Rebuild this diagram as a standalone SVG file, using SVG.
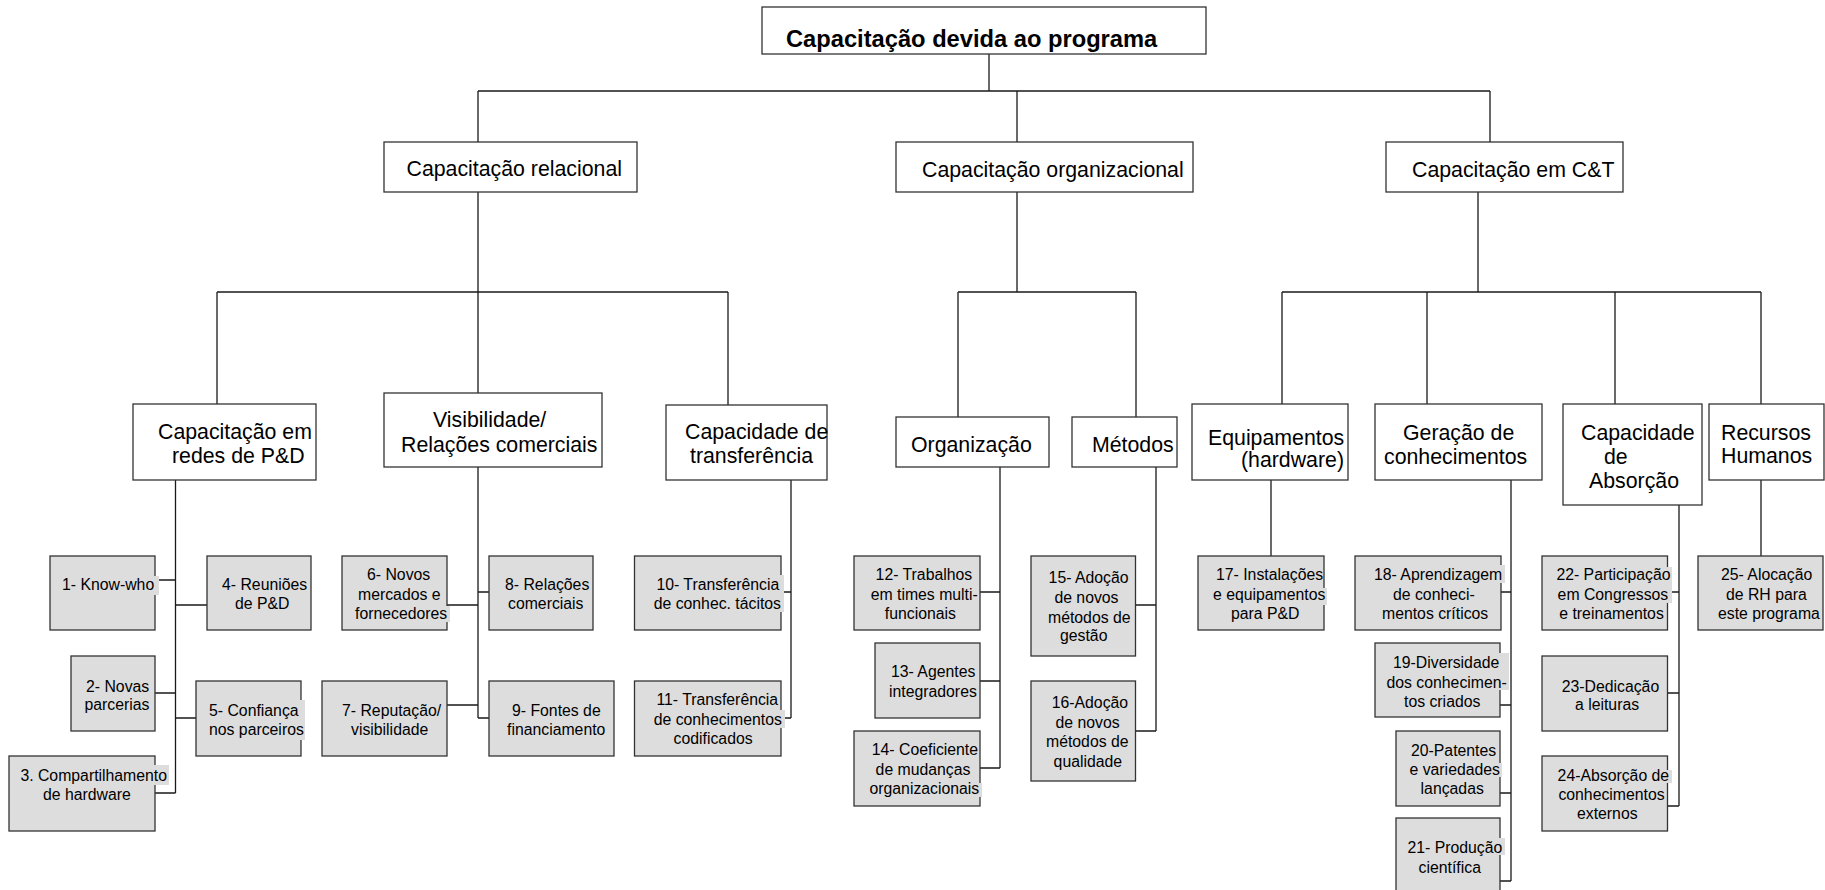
<svg xmlns="http://www.w3.org/2000/svg" width="1825" height="890" viewBox="0 0 1825 890">
<style>
.box{fill:#ffffff;stroke:#333333;stroke-width:1.3}
.leaf{fill:#dddddd;stroke:#333333;stroke-width:1.3}
.tbg{fill:#dddddd;stroke:none}
.l0{font-family:"Liberation Sans",Arial,sans-serif;font-weight:bold;font-size:23.7px;fill:#000}
.l1{font-family:"Liberation Sans",Arial,sans-serif;font-size:21.3px;fill:#000}
.l3{font-family:"Liberation Sans",Arial,sans-serif;font-size:15.8px;fill:#000}
.conn{fill:none;stroke:#1a1a1a;stroke-width:1.3}
</style>
<rect width="1825" height="890" fill="#ffffff"/>
<g id="connectors" class="conn">
<path d="M989,54V91 M478,91H1490 M478,91V142 M1017,91V142 M1490,91V142 M1126,142V154"/>
<path d="M478,192V393 M217,292H728 M217,292V404 M728,292V405"/>
<path d="M1017,192V292 M958,292H1136 M958,292V417 M1136,292V417"/>
<path d="M1478,192V292 M1282,292H1761 M1282,292V404 M1427,292V404 M1615,292V404 M1761,292V404"/>
<path d="M175.5,480V793 M155,580H175.5 M175.5,605H207 M155,693H175.5 M175.5,718H196 M155,793H175.5"/>
<path d="M478,467V718 M447,605H478 M478,592H489 M447,705H478 M478,718H489"/>
<path d="M791,480V718 M781,592H791 M781,718H791"/>
<path d="M1000,467V768 M980,592H1000 M980,681H1000 M980,768H1000"/>
<path d="M1156,467V731 M1135.5,605H1156 M1135.5,731H1156"/>
<path d="M1271,480V556"/>
<path d="M1511,480V881 M1501,592H1511 M1500,705H1511 M1500,793H1511 M1500,881H1511"/>
<path d="M1679,505V806 M1667.5,592H1679 M1667.5,693H1679 M1667.5,806H1679"/>
<path d="M1761,480V556"/>
</g>
<g id="root"><rect class="box" x="762" y="7" width="444" height="47"/><text class="l0" x="786" y="47">Capacitação devida ao programa</text></g>
<g id="cap-relacional"><rect class="box" x="384" y="142" width="253" height="50"/><text class="l1" x="406.5" y="176">Capacitação relacional</text></g>
<g id="cap-organizacional"><rect class="box" x="896" y="142" width="297" height="50"/><text class="l1" x="922" y="177">Capacitação organizacional</text></g>
<g id="cap-ct"><rect class="box" x="1386" y="142" width="237" height="50"/><text class="l1" x="1412" y="177">Capacitação em C&amp;T</text></g>
<g id="redes"><rect class="box" x="133" y="404" width="183" height="76"/><text class="l1"><tspan x="158" y="439">Capacitação em</tspan><tspan x="172" y="463">redes de P&amp;D</tspan></text></g>
<g id="visibilidade"><rect class="box" x="384" y="393" width="218" height="74"/><text class="l1"><tspan x="433" y="427">Visibilidade/</tspan><tspan x="401" y="452">Relações comerciais</tspan></text></g>
<g id="transferencia"><rect class="box" x="666" y="405" width="161" height="75"/><text class="l1"><tspan x="685" y="439">Capacidade de</tspan><tspan x="690" y="463">transferência</tspan></text></g>
<g id="organizacao"><rect class="box" x="896" y="417" width="153" height="50"/><text class="l1" x="911" y="452">Organização</text></g>
<g id="metodos"><rect class="box" x="1072" y="417" width="105" height="50"/><text class="l1" x="1092" y="452">Métodos</text></g>
<g id="equipamentos"><rect class="box" x="1192" y="404" width="156" height="76"/><text class="l1"><tspan x="1208" y="445">Equipamentos</tspan><tspan x="1241" y="467">(hardware)</tspan></text></g>
<g id="geracao"><rect class="box" x="1375" y="404" width="167" height="76"/><text class="l1"><tspan x="1403" y="440">Geração de</tspan><tspan x="1384" y="464">conhecimentos</tspan></text></g>
<g id="absorcao"><rect class="box" x="1563" y="404" width="139" height="101"/><text class="l1"><tspan x="1581" y="440">Capacidade</tspan><tspan x="1604" y="464">de</tspan><tspan x="1589" y="488">Absorção</tspan></text></g>
<g id="rh"><rect class="box" x="1709" y="404" width="115" height="76"/><text class="l1"><tspan x="1721" y="440">Recursos</tspan><tspan x="1721" y="463">Humanos</tspan></text></g>
<g id="n1"><rect class="leaf" x="50" y="556" width="105" height="74"/><rect class="tbg" x="153" y="576" width="6" height="19"/><text class="l3" x="62" y="590">1- Know-who</text></g>
<g id="n4"><rect class="leaf" x="207" y="556" width="104" height="74"/><text class="l3"><tspan x="222" y="590">4- Reuniões</tspan><tspan x="235" y="609">de P&amp;D</tspan></text></g>
<g id="n2"><rect class="leaf" x="71" y="656" width="84" height="75"/><text class="l3"><tspan x="86" y="692">2- Novas</tspan><tspan x="84.5" y="710">parcerias</tspan></text></g>
<g id="n5"><rect class="leaf" x="196" y="681" width="105" height="75"/><rect class="tbg" x="299" y="700" width="6" height="40"/><text class="l3"><tspan x="209" y="716">5- Confiança</tspan><tspan x="209" y="735">nos parceiros</tspan></text></g>
<g id="n3"><rect class="leaf" x="9" y="756" width="146" height="75"/><rect class="tbg" x="153" y="765" width="16" height="20"/><text class="l3"><tspan x="20.4" y="781">3. Compartilhamento</tspan><tspan x="43" y="800">de hardware</tspan></text></g>
<g id="n6"><rect class="leaf" x="342" y="556" width="105" height="74"/><rect class="tbg" x="445" y="606" width="5" height="16"/><text class="l3"><tspan x="367" y="580">6- Novos</tspan><tspan x="358" y="600">mercados e</tspan><tspan x="355" y="619">fornecedores</tspan></text></g>
<g id="n8"><rect class="leaf" x="489" y="556" width="104" height="74"/><text class="l3"><tspan x="505" y="590">8- Relações</tspan><tspan x="508" y="609">comerciais</tspan></text></g>
<g id="n7"><rect class="leaf" x="322" y="681" width="125" height="75"/><text class="l3"><tspan x="342" y="716">7- Reputação/</tspan><tspan x="351" y="735">visibilidade</tspan></text></g>
<g id="n9"><rect class="leaf" x="489" y="681" width="125" height="75"/><text class="l3"><tspan x="512" y="716">9- Fontes de</tspan><tspan x="507" y="735">financiamento</tspan></text></g>
<g id="n10"><rect class="leaf" x="634.5" y="556" width="146.5" height="74"/><rect class="tbg" x="779" y="575" width="5" height="37"/><text class="l3"><tspan x="656.4" y="590">10- Transferência</tspan><tspan x="653.7" y="609">de conhec. tácitos</tspan></text></g>
<g id="n11"><rect class="leaf" x="634.5" y="681" width="146.5" height="75"/><rect class="tbg" x="779" y="710" width="6" height="18"/><text class="l3"><tspan x="656.4" y="705">11- Transferência</tspan><tspan x="653.7" y="725">de conhecimentos</tspan><tspan x="673.6" y="744">codificados</tspan></text></g>
<g id="n12"><rect class="leaf" x="854" y="556" width="126" height="74"/><text class="l3"><tspan x="875.6" y="580">12- Trabalhos</tspan><tspan x="870.7" y="600">em times multi-</tspan><tspan x="884.8" y="619">funcionais</tspan></text></g>
<g id="n13"><rect class="leaf" x="875" y="643" width="105" height="75"/><text class="l3"><tspan x="891" y="677">13- Agentes</tspan><tspan x="889" y="697">integradores</tspan></text></g>
<g id="n14"><rect class="leaf" x="854" y="731" width="126" height="75"/><rect class="tbg" x="978" y="783" width="4" height="14"/><text class="l3"><tspan x="871.8" y="755">14- Coeficiente</tspan><tspan x="875.6" y="775">de mudanças</tspan><tspan x="869.5" y="794">organizacionais</tspan></text></g>
<g id="n15"><rect class="leaf" x="1031" y="556" width="104.5" height="100"/><text class="l3"><tspan x="1048.6" y="583">15- Adoção</tspan><tspan x="1054.4" y="603">de novos</tspan><tspan x="1048" y="622.7">métodos de</tspan><tspan x="1060" y="641">gestão</tspan></text></g>
<g id="n16"><rect class="leaf" x="1031" y="681" width="104.5" height="100"/><text class="l3"><tspan x="1051.7" y="708">16-Adoção</tspan><tspan x="1055.5" y="728">de novos</tspan><tspan x="1046" y="747">métodos de</tspan><tspan x="1053.6" y="767">qualidade</tspan></text></g>
<g id="n17"><rect class="leaf" x="1198" y="556" width="126" height="74"/><rect class="tbg" x="1322" y="588" width="5" height="17"/><text class="l3"><tspan x="1216" y="580">17- Instalações</tspan><tspan x="1213" y="600">e equipamentos</tspan><tspan x="1231" y="619">para P&amp;D</tspan></text></g>
<g id="n18"><rect class="leaf" x="1355" y="556" width="146" height="74"/><rect class="tbg" x="1499" y="565" width="6" height="18"/><text class="l3"><tspan x="1374" y="580">18- Aprendizagem</tspan><tspan x="1393" y="600">de conheci-</tspan><tspan x="1382" y="619">mentos críticos</tspan></text></g>
<g id="n19"><rect class="leaf" x="1375" y="643" width="125" height="74"/><rect class="tbg" x="1498" y="653" width="11" height="37"/><text class="l3"><tspan x="1393" y="668">19-Diversidade</tspan><tspan x="1386.5" y="688">dos conhecimen-</tspan><tspan x="1404" y="707">tos criados</tspan></text></g>
<g id="n20"><rect class="leaf" x="1396" y="731" width="104" height="75"/><rect class="tbg" x="1498" y="763" width="4" height="14"/><text class="l3"><tspan x="1411" y="756">20-Patentes</tspan><tspan x="1409.5" y="775">e variedades</tspan><tspan x="1420.6" y="794">lançadas</tspan></text></g>
<g id="n21"><rect class="leaf" x="1396" y="818" width="104" height="80"/><rect class="tbg" x="1498" y="838" width="7" height="17"/><text class="l3"><tspan x="1407.5" y="853">21- Produção</tspan><tspan x="1418.6" y="873">científica</tspan></text></g>
<g id="n22"><rect class="leaf" x="1542" y="556" width="125.5" height="74"/><rect class="tbg" x="1666" y="567" width="6" height="36"/><text class="l3"><tspan x="1556.4" y="580">22- Participação</tspan><tspan x="1557.6" y="600">em Congressos</tspan><tspan x="1559.3" y="619">e treinamentos</tspan></text></g>
<g id="n23"><rect class="leaf" x="1542" y="656" width="125.5" height="75"/><text class="l3"><tspan x="1561.7" y="692">23-Dedicação</tspan><tspan x="1575" y="710">a leituras</tspan></text></g>
<g id="n24"><rect class="leaf" x="1542" y="756" width="125.5" height="75"/><rect class="tbg" x="1666" y="770" width="6" height="13"/><text class="l3"><tspan x="1557.6" y="781">24-Absorção de</tspan><tspan x="1558.4" y="800">conhecimentos</tspan><tspan x="1577" y="819">externos</tspan></text></g>
<g id="n25"><rect class="leaf" x="1698" y="556" width="125" height="74"/><text class="l3"><tspan x="1721" y="580">25- Alocação</tspan><tspan x="1726" y="600">de RH para</tspan><tspan x="1718" y="619">este programa</tspan></text></g>
</svg>
